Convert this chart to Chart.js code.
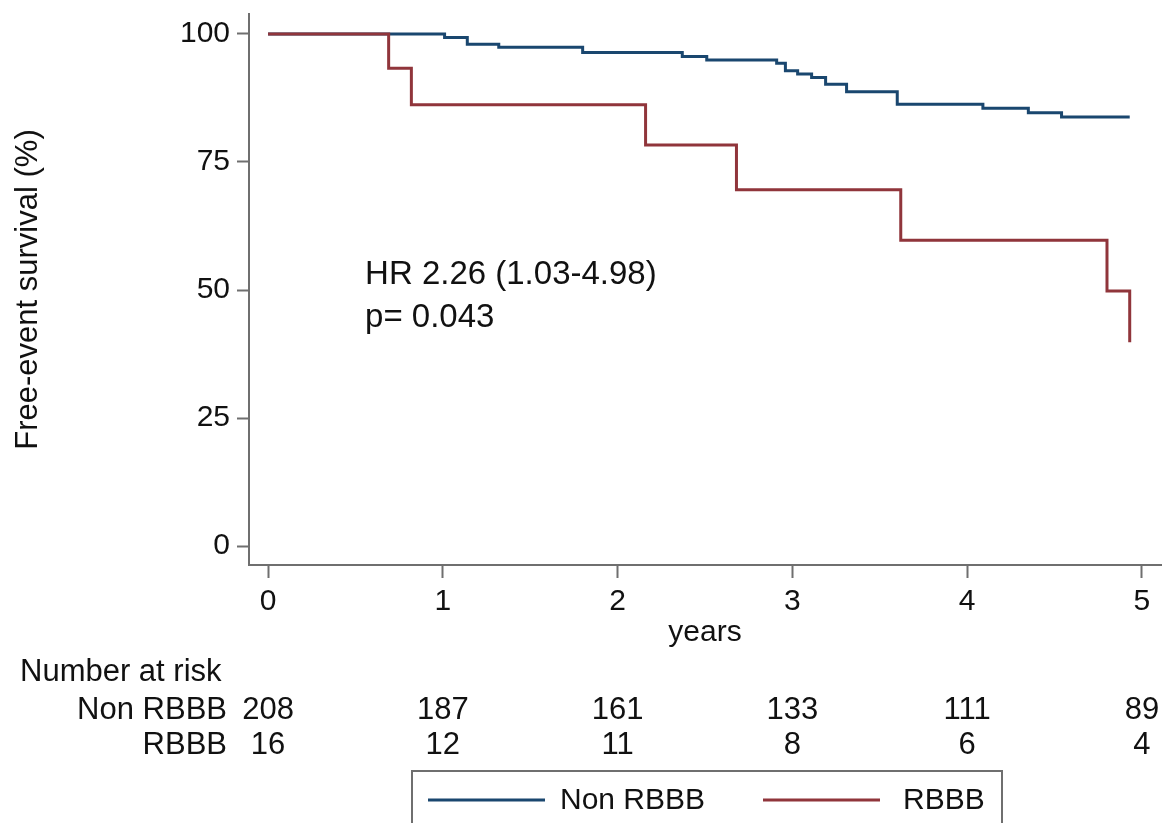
<!DOCTYPE html>
<html><head><meta charset="utf-8">
<script src="https://cdn.jsdelivr.net/npm/chart.js@4.4.1/dist/chart.umd.min.js"></script>
<style>html,body{margin:0;padding:0;background:#fff;}#wrap{position:relative;width:1166px;height:823px;}</style>
</head><body><div id="wrap"><canvas id="c" width="1166" height="823"></canvas></div>
<script>
// ---- data ----
const nonRbbbTimes = [0, 1.01, 1.14, 1.32, 1.80, 2.37, 2.51, 2.91, 2.96, 3.03, 3.11, 3.19, 3.31, 3.60, 4.09, 4.35, 4.54, 4.93];
const nonRbbbSurv  = [100, 99.3, 98.0, 97.4, 96.4, 95.6, 94.9, 94.3, 92.8, 92.2, 91.5, 90.2, 88.7, 86.3, 85.5, 84.6, 83.8, 83.8];
const rbbbTimes = [0, 0.69, 0.82, 2.16, 2.68, 3.62, 4.80, 4.93];
const rbbbSurv  = [100, 93.3, 86.2, 78.3, 69.6, 59.7, 49.8, 39.8];
const xTickValues = [0, 1, 2, 3, 4, 5];
const yTickValues = [0, 25, 50, 75, 100];
const riskTimes = [0, 1, 2, 3, 4, 5];
const nonRbbbRisk = [208, 187, 161, 133, 111, 89];
const rbbbRisk = [16, 12, 11, 8, 6, 4];
const seriesNames = ['Non RBBB', 'RBBB'];
const annotationLines = ['HR 2.26 (1.03-4.98)', 'p= 0.043'];

// ---- styles ----
const FAMILY = "'Liberation Sans', Arial, sans-serif";
const NAVY = '#1a476f';
const MAROON = '#90353b';
const AXIS = '#6f6f6f';
const TXT = '#111111';

const extras = {
  id: 'extras',
  afterDraw(chart) {
    const ctx = chart.ctx;
    const xs = chart.scales.x, ys = chart.scales.y;
    ctx.save();
    ctx.fillStyle = TXT;
    // annotation
    ctx.font = '33px ' + FAMILY;
    ctx.textAlign = 'left';
    ctx.textBaseline = 'middle';
    ctx.fillText(annotationLines[0], xs.getPixelForValue(0.555), ys.getPixelForValue(52.9));
    ctx.fillText(annotationLines[1], xs.getPixelForValue(0.555), ys.getPixelForValue(44.5));
    // risk table
    ctx.font = '31px ' + FAMILY;
    ctx.fillText('Number at risk', 20, 672);
    ctx.textAlign = 'right';
    ctx.fillText(seriesNames[0], 227, 710);
    ctx.fillText(seriesNames[1], 227, 745);
    ctx.textAlign = 'center';
    riskTimes.forEach((t, i) => {
      const px = xs.getPixelForValue(t);
      ctx.fillText(String(nonRbbbRisk[i]), px, 710);
      ctx.fillText(String(rbbbRisk[i]), px, 745);
    });
    // legend
    ctx.font = '30px ' + FAMILY;
    ctx.strokeStyle = AXIS;
    ctx.lineWidth = 2;
    ctx.strokeRect(412, 771, 590, 70);
    ctx.lineWidth = 3;
    ctx.strokeStyle = NAVY;
    ctx.beginPath(); ctx.moveTo(428, 800); ctx.lineTo(545, 800); ctx.stroke();
    ctx.strokeStyle = MAROON;
    ctx.beginPath(); ctx.moveTo(763, 800); ctx.lineTo(880, 800); ctx.stroke();
    ctx.textAlign = 'left';
    ctx.fillText(seriesNames[0], 560, 801);
    ctx.fillText(seriesNames[1], 903, 801);
    ctx.restore();
  }
};

new Chart(document.getElementById('c'), {
  type: 'line',
  data: {
    datasets: [
      { label: seriesNames[1], data: rbbbTimes.map((t, i) => ({x: t, y: rbbbSurv[i]})),
        borderColor: MAROON, borderWidth: 3, stepped: true, pointRadius: 0, fill: false },
      { label: seriesNames[0], data: nonRbbbTimes.map((t, i) => ({x: t, y: nonRbbbSurv[i]})),
        borderColor: NAVY, borderWidth: 3, stepped: true, pointRadius: 0, fill: false }
    ]
  },
  options: {
    responsive: false, animation: false, events: [],
    layout: { padding: { top: 14, right: 5, left: 0, bottom: 0 } },
    plugins: { legend: { display: false }, tooltip: { enabled: false } },
    scales: {
      x: {
        type: 'linear', min: -0.109, max: 5.109,
        afterBuildTicks: s => { s.ticks = xTickValues.map(v => ({value: v})); },
        afterFit: s => { s.height = 258; s.paddingLeft = 0; s.paddingRight = 0; },
        grid: { drawOnChartArea: false, drawTicks: true, tickLength: 13, tickColor: AXIS, tickWidth: 2 },
        border: { color: AXIS, width: 2 },
        ticks: { color: TXT, font: { family: FAMILY, size: 30 }, padding: 6, maxRotation: 0, autoSkip: false },
        title: { display: true, text: 'years', color: TXT, font: { family: FAMILY, size: 30 }, padding: { top: 0, bottom: 172 } }
      },
      y: {
        type: 'linear', min: -3.7, max: 103.9,
        afterBuildTicks: s => { s.ticks = yTickValues.map(v => ({value: v})); },
        afterFit: s => { s.width = 249; s.paddingTop = 0; s.paddingBottom = 0; },
        grid: { drawOnChartArea: false, drawTicks: true, tickLength: 12, tickColor: AXIS, tickWidth: 2 },
        border: { color: AXIS, width: 2 },
        ticks: { color: TXT, font: { family: FAMILY, size: 30 }, padding: 7, autoSkip: false },
        title: { display: true, text: 'Free-event survival (%)', color: TXT, font: { family: FAMILY, size: 31 }, padding: { top: 10, bottom: 0 } }
      }
    }
  },
  plugins: [extras]
});
</script></body></html>
